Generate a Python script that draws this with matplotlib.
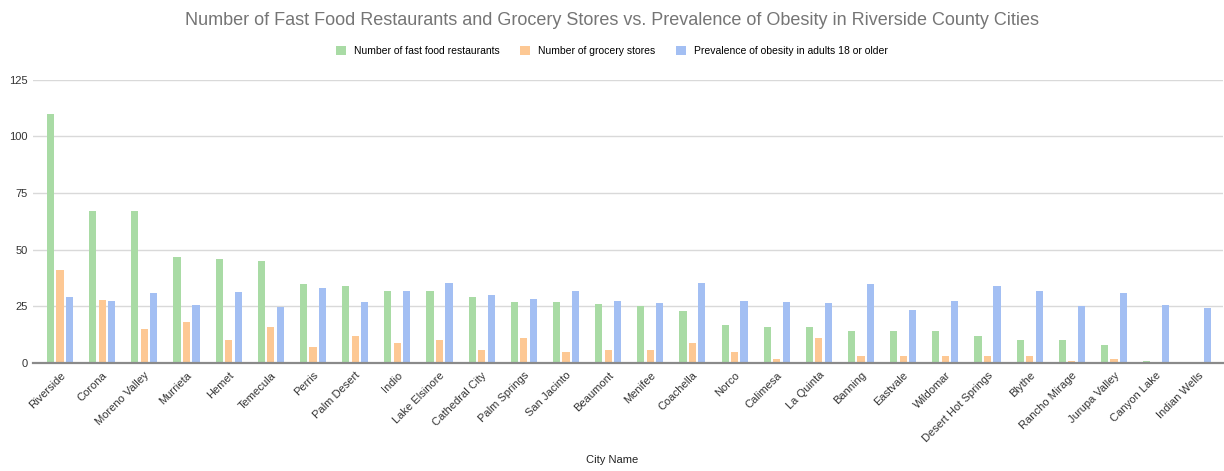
import matplotlib.pyplot as plt
import numpy as np

plt.rcParams['font.family'] = ['Liberation Sans', 'DejaVu Sans']

cities = ['Riverside', 'Corona', 'Moreno Valley', 'Murrieta', 'Hemet', 'Temecula',
          'Perris', 'Palm Desert', 'Indio', 'Lake Elsinore', 'Cathedral City',
          'Palm Springs', 'San Jacinto', 'Beaumont', 'Menifee', 'Coachella', 'Norco',
          'Calimesa', 'La Quinta', 'Banning', 'Eastvale', 'Wildomar',
          'Desert Hot Springs', 'Blythe', 'Rancho Mirage', 'Jurupa Valley',
          'Canyon Lake', 'Indian Wells']
fast_food = [110, 67, 67, 47, 46, 45, 35, 34, 32, 32, 29, 27, 27, 26, 25, 23, 17,
             16, 16, 14, 14, 14, 12, 10, 10, 8, 1, 0]
grocery = [41, 28, 15, 18, 10, 16, 7, 12, 9, 10, 6, 11, 5, 6, 6, 9, 5,
           2, 11, 3, 3, 3, 3, 3, 1, 2, 0, 0]
obesity = [29.3, 27.2, 30.8, 25.6, 31.3, 24.8, 33.3, 27.1, 31.7, 35.2, 30.2,
           28.1, 31.6, 27.5, 26.6, 35.2, 27.4, 27.0, 26.6, 34.7, 23.3, 27.5,
           33.9, 32.0, 25.4, 31.1, 25.8, 24.2]

series = [
    ('Number of fast food restaurants', fast_food, '#a9dba5'),
    ('Number of grocery stores', grocery, '#fdc894'),
    ('Prevalence of obesity in adults 18 or older', obesity, '#a3bff3'),
]

fig = plt.figure(figsize=(12.24, 4.71), dpi=100)
ax = fig.add_axes([0.027, 0.229, 0.972, 0.602])

x = np.arange(len(cities))
offsets = [-0.225, 0, 0.225]
for (label, vals, color), off in zip(series, offsets):
    ax.bar(x + off, vals, width=0.17, color=color, label=label, zorder=3)

ax.set_xlim(-0.64, 27.58)
ax.set_ylim(0, 125)
ax.set_yticks([0, 25, 50, 75, 100, 125])
ax.grid(axis='y', color='#d9d9d9', linewidth=1, zorder=0)
for s in ['top', 'right', 'left']:
    ax.spines[s].set_visible(False)
ax.spines['bottom'].set_color('#8a8a8a')
ax.spines['bottom'].set_linewidth(1.6)
ax.spines['bottom'].set_zorder(4)
ax.tick_params(axis='both', length=0, labelsize=8, colors='#333333')
ax.tick_params(axis='y', pad=4)
ax.tick_params(axis='x', pad=5)
ax.set_xticks(x)
ax.set_xticklabels(cities, rotation=45, ha='right', rotation_mode='anchor')

fig.text(0.5, 0.018, 'City Name', ha='center', fontsize=8, color='#222222')
fig.text(0.5, 0.957, 'Number of Fast Food Restaurants and Grocery Stores vs. Prevalence of Obesity in Riverside County Cities',
         ha='center', va='center', fontsize=13, color='#757575')

fig.legend(loc='center', bbox_to_anchor=(0.5, 0.892), ncol=3, frameon=False,
           fontsize=7.5, handlelength=0.9, handleheight=0.9, columnspacing=2.0,
           handletextpad=0.8)

fig.savefig('out.png', dpi=100)
